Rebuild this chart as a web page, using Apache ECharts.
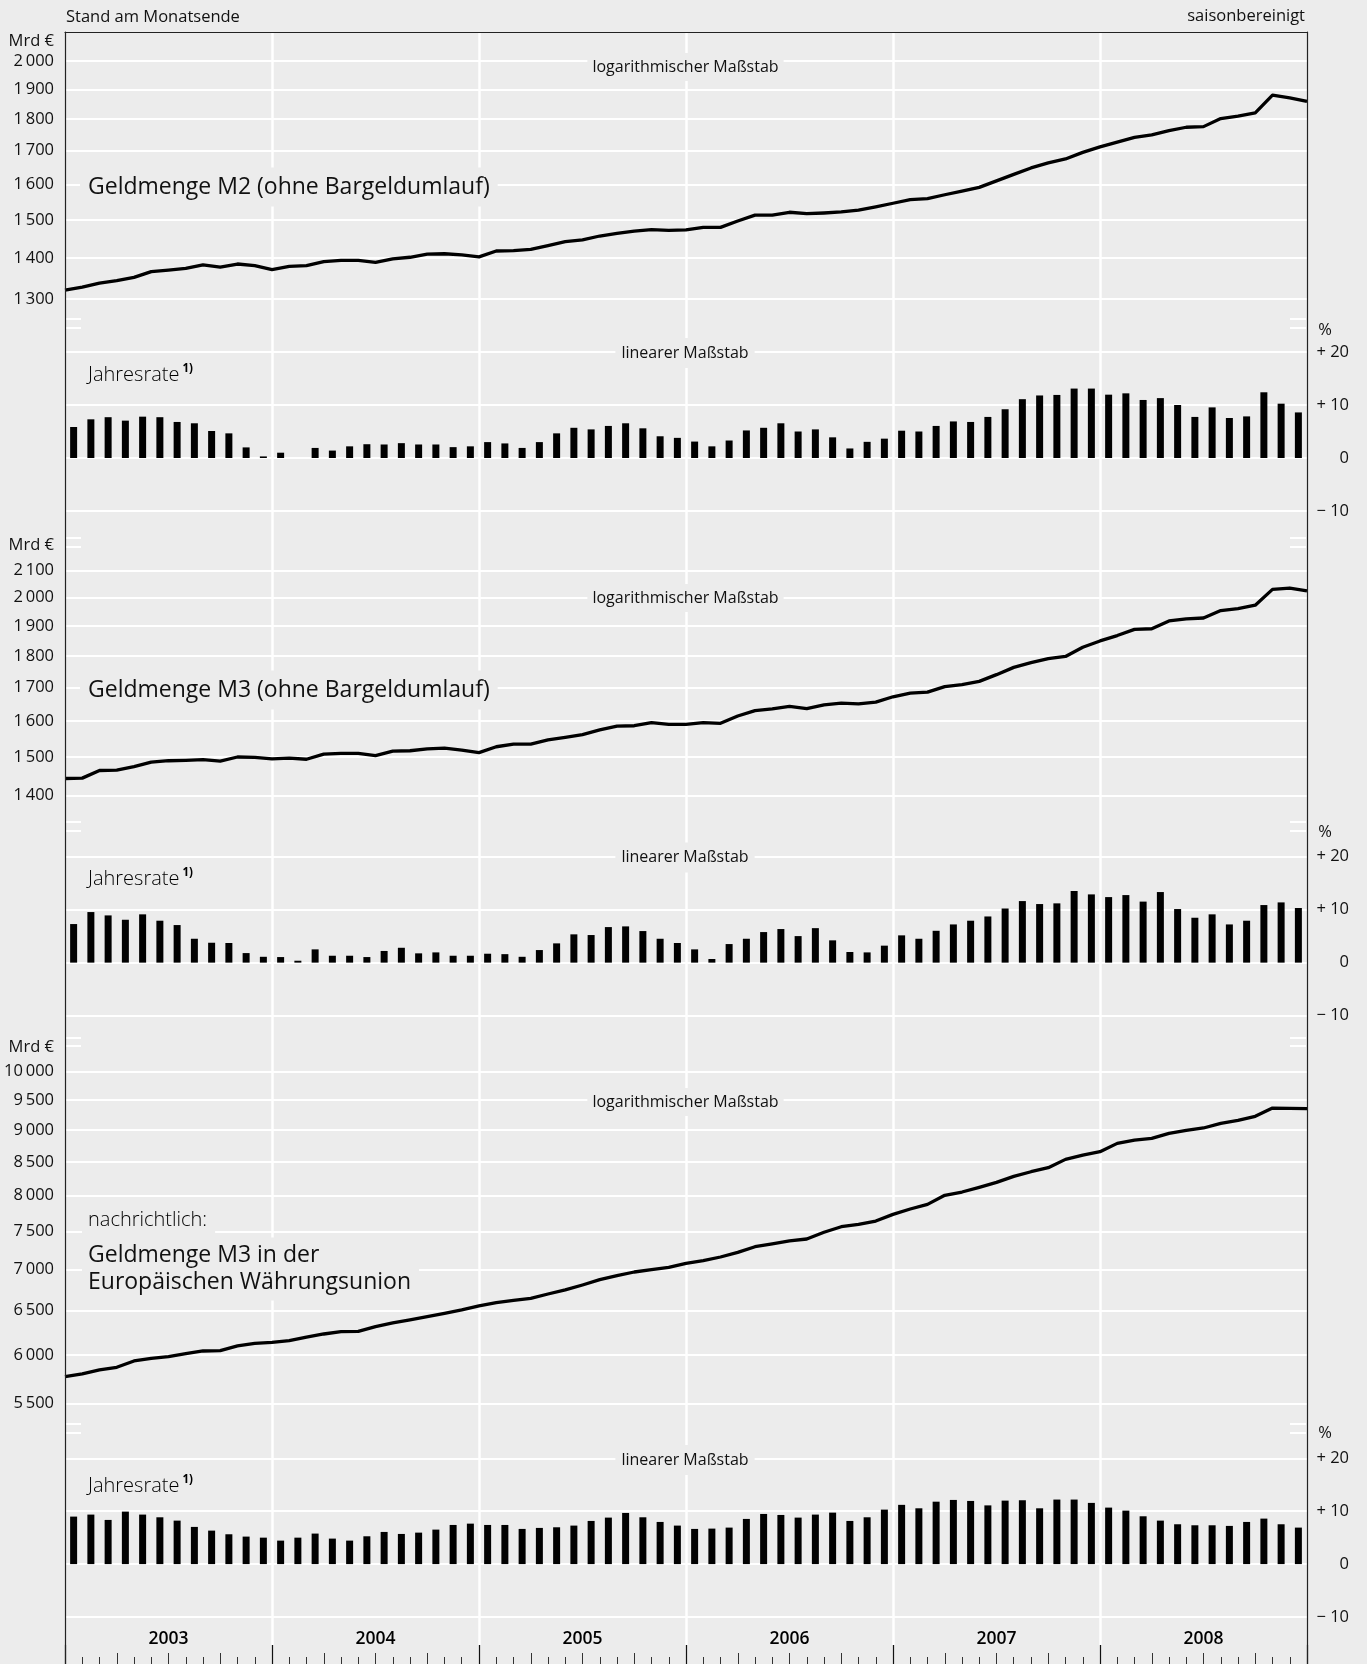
<!DOCTYPE html>
<html>
<head>
<meta charset="utf-8">
<script src="https://cdn.jsdelivr.net/npm/echarts@6/dist/echarts.min.js"></script>
<style>
html,body{margin:0;padding:0;background:#ececec;}
#c{width:1367px;height:1664px;}
</style>
</head>
<body>
<div id="c"></div>
<script>
// ---------- DATA ----------
// year labels (x axis)
const years = ['2003','2004','2005','2006','2007','2008'];
// month-end levels, end Dec 2002 .. end Dec 2008 (73 points), Mrd €
const m2Level = [1321,1328,1338,1344,1352,1366,1370,1374,1383,1377,1385,1381,1371,1379,1381,1391,1394,1394,1389,1398,1402,1410,1411,1408,1403,1418,1419,1422,1432,1442,1447,1457,1464,1470,1474,1472,1473,1480,1480,1497,1513,1513,1521,1517,1519,1522,1527,1536,1546,1556,1559,1570,1580,1591,1610,1629,1648,1663,1675,1695,1712,1727,1742,1750,1763,1774,1776,1802,1810,1821,1880,1871,1859];
const m3Level = [1443,1444,1464,1465,1474,1486,1490,1491,1493,1489,1500,1499,1495,1497,1494,1508,1510,1510,1504,1516,1517,1522,1524,1519,1512,1528,1535,1535,1547,1554,1562,1575,1586,1587,1596,1591,1591,1596,1594,1615,1631,1636,1643,1637,1648,1653,1651,1656,1672,1683,1686,1703,1709,1719,1740,1763,1778,1791,1798,1828,1849,1867,1888,1890,1917,1924,1927,1953,1960,1972,2029,2034,2024];
const ewuLevel = [5771,5799,5841,5869,5936,5965,5983,6015,6044,6048,6099,6128,6139,6158,6198,6232,6258,6262,6315,6357,6392,6430,6469,6508,6555,6594,6622,6646,6698,6747,6808,6874,6923,6969,6998,7028,7079,7113,7160,7220,7294,7330,7370,7396,7486,7562,7594,7640,7732,7807,7873,8002,8050,8118,8191,8280,8350,8411,8538,8605,8657,8788,8841,8868,8948,8996,9035,9111,9160,9227,9366,9360,9355];
// annual growth rates, Jan 2003 .. Dec 2008 (72 months), %
const m2Rate = [5.85,7.3,7.7,7.05,7.8,7.7,6.8,6.55,5.1,4.65,2.0,0.3,1.0,0,1.9,1.4,2.2,2.6,2.55,2.8,2.55,2.55,2.05,2.2,3.0,2.75,1.9,3.0,4.65,5.7,5.4,6.05,6.55,5.6,4.1,3.8,3.1,2.2,3.3,5.2,5.7,6.55,5.0,5.4,3.9,1.8,3.05,3.65,5.15,5.0,6.05,6.9,6.8,7.75,9.2,11.1,11.8,11.9,13.1,13.1,11.95,12.2,10.95,11.3,10.0,7.75,9.55,7.55,7.85,12.4,10.25,8.6];
const m3Rate = [7.27,9.53,8.9,8.08,9.1,7.9,7.08,4.5,3.75,3.7,1.8,1.1,1.05,0.36,2.5,1.3,1.3,1.05,2.2,2.8,1.75,1.93,1.3,1.3,1.68,1.6,1.1,2.37,3.63,5.33,5.2,6.7,6.83,5.95,4.5,3.7,2.5,0.68,3.5,4.5,5.76,6.33,5.0,6.5,4.2,2.0,1.93,3.2,5.14,4.5,6.0,7.2,7.9,8.7,10.2,11.6,11.04,11.17,13.5,12.86,12.35,12.73,11.5,13.3,10.1,8.46,9.1,7.2,7.9,10.85,11.35,10.3];
const ewuRate = [8.98,9.36,8.35,9.92,9.36,8.85,8.22,7.03,6.33,5.64,5.2,5.0,4.44,5.0,5.77,4.82,4.44,5.26,6.08,5.7,5.95,6.52,7.4,7.65,7.4,7.4,6.65,6.84,6.96,7.28,8.16,8.79,9.67,8.85,7.97,7.28,6.65,6.71,6.9,8.54,9.48,9.29,8.79,9.36,9.73,8.16,8.85,10.3,11.2,10.55,11.8,12.13,11.94,11.1,12.0,12.07,10.55,12.2,12.2,11.57,10.68,10.11,9.04,8.22,7.53,7.34,7.34,7.22,7.97,8.6,7.53,6.9];
// tick labels
const m2Ticks = [1300,1400,1500,1600,1700,1800,1900,2000];
const m3Ticks = [1400,1500,1600,1700,1800,1900,2000,2100];
const ewuTicks = [5500,6000,6500,7000,7500,8000,8500,9000,9500,10000];
const rateTicks = [-10,0,10,20];

// ---------- STYLE / LAYOUT ----------
const BG = '#ececec';
const FONT = "'Open Sans','Noto Sans',sans-serif";
const INK = '#111';
const FRAME = '#222';
const L = 65, R = 1367 - 1307;

const fmtK = v => String(v).replace(/\B(?=(\d{3})+(?!\d))/g, '\u2009');
const fmtRate = v => v > 0 ? '+ ' + v : (v < 0 ? '\u2212 ' + (-v) : '0');

const grids = [
  {left: L, right: R, top: 32, height: 1613},      // 0 background + year lines
  {left: L, right: R, top: 1645, height: 19},      // 1 month ticks
  {left: L, right: R, top: 61, height: 238},       // 2 M2 level
  {left: L, right: R, top: 352, height: 159},      // 3 M2 rate
  {left: L, right: R, top: 570.3, height: 225},    // 4 M3 level
  {left: L, right: R, top: 856.5, height: 159.2},  // 5 M3 rate
  {left: L, right: R, top: 1071.7, height: 331.6}, // 6 EWU level
  {left: L, right: R, top: 1458.3, height: 158.7}  // 7 EWU rate
];

const hidX = gi => ({type: 'value', gridIndex: gi, min: 0, max: 72, show: false});
const xAxes = [
  {type: 'value', gridIndex: 0, min: 0, max: 72, interval: 12, position: 'bottom',
   axisLine: {show: false, onZero: false}, axisTick: {show: false}, axisLabel: {show: false},
   splitLine: {show: true, showMinLine: false, showMaxLine: false, lineStyle: {color: '#fff', width: 2.5}}},
  {type: 'value', gridIndex: 0, min: 0, max: 72, position: 'top', z: 10,
   axisLine: {show: true, onZero: false, lineStyle: {color: FRAME, width: 1.2}}, axisTick: {show: false},
   axisLabel: {show: false}, splitLine: {show: false}},
  {type: 'category', gridIndex: 0, data: years, position: 'bottom', boundaryGap: true,
   axisLine: {show: false, onZero: false}, axisTick: {show: false}, splitLine: {show: false},
   axisLabel: {show: true, inside: true, margin: 6, verticalAlign: 'middle', color: '#000',
               fontSize: 17.5, fontWeight: 600, fontFamily: FONT}},
  {type: 'value', gridIndex: 1, min: 0, max: 72, interval: 1, position: 'bottom',
   axisLine: {show: false, onZero: false}, axisLabel: {show: false}, splitLine: {show: false},
   axisTick: {show: true, inside: true, length: 7, lineStyle: {color: '#333', width: 1}}},
  {type: 'value', gridIndex: 1, min: 0, max: 72, interval: 3, position: 'bottom',
   axisLine: {show: false, onZero: false}, axisLabel: {show: false}, splitLine: {show: false},
   axisTick: {show: true, inside: true, length: 11, lineStyle: {color: '#333', width: 1}}},
  {type: 'value', gridIndex: 1, min: 0, max: 72, interval: 12, position: 'bottom',
   axisLine: {show: false, onZero: false}, axisLabel: {show: false}, splitLine: {show: false},
   axisTick: {show: true, inside: true, length: 19, lineStyle: {color: '#111', width: 1.2}}},
  hidX(2), hidX(3), hidX(4), hidX(5), hidX(6), hidX(7)
];

const frameY = (gi, pos) => ({type: 'value', gridIndex: gi, min: 0, max: 1, position: pos, z: 10,
  axisLine: {show: true, onZero: false, lineStyle: {color: FRAME, width: 1.2}}, axisTick: {show: false},
  axisLabel: {show: false}, splitLine: {show: false}});
const logY = (gi, ticks) => ({type: 'log', gridIndex: gi, min: ticks[0], max: ticks[ticks.length - 1],
  position: 'left', axisLine: {show: false, onZero: false},
  axisTick: {show: false, customValues: ticks},
  axisLabel: {show: true, customValues: ticks, formatter: v => fmtK(Math.round(v)), margin: 11,
              color: INK, fontSize: 16.5, fontFamily: FONT},
  splitLine: {show: true, lineStyle: {color: '#fff', width: 2}}});
const rateY = gi => ({type: 'value', gridIndex: gi, min: rateTicks[0], max: rateTicks[rateTicks.length - 1],
  interval: 10, position: 'right', axisLine: {show: false, onZero: false}, axisTick: {show: false},
  axisLabel: {show: true, formatter: fmtRate, margin: 42, align: 'right', color: INK,
              fontSize: 16.5, fontFamily: FONT},
  splitLine: {show: true, lineStyle: {color: '#fff', width: 2}}});

const yAxes = [
  frameY(0, 'left'), frameY(0, 'right'), frameY(1, 'left'), frameY(1, 'right'),
  logY(2, m2Ticks), rateY(3), logY(4, m3Ticks), rateY(5), logY(6, ewuTicks), rateY(7)
];

const lineS = (xi, yi, arr) => ({type: 'line', xAxisIndex: xi, yAxisIndex: yi, z: 5,
  data: arr.map((v, i) => [i, v]), symbol: 'none', smooth: false,
  lineStyle: {color: '#000', width: 3.3, join: 'round'}});
const barS = (xi, yi, arr) => ({type: 'bar', xAxisIndex: xi, yAxisIndex: yi, z: 5,
  data: arr.map((v, i) => [i + 0.5, v]), barWidth: 7, itemStyle: {color: '#000'}});

const series = [
  lineS(6, 4, m2Level), barS(7, 5, m2Rate),
  lineS(8, 6, m3Level), barS(9, 7, m3Rate),
  lineS(10, 8, ewuLevel), barS(11, 9, ewuRate)
];

// ---------- TEXT ----------
function txt(x, y, text, size, o) {
  o = o || {};
  const style = {text: text, fill: o.fill || INK, align: o.align || 'left', verticalAlign: 'middle',
    font: (o.weight || 'normal') + ' ' + size + 'px ' + FONT};
  if (o.box) { style.backgroundColor = BG; style.padding = o.box; }
  if (o.lh) style.lineHeight = o.lh;
  return {type: 'text', x: x, y: y, z: 100, style: style};
}
function jahresrate(y) {
  return {type: 'text', x: 88, y: y, z: 100, style: {
    text: '{m|Jahresrate}{s|1)}', fill: '#000', align: 'left', verticalAlign: 'middle',
    rich: {
      m: {fontSize: 20, fontFamily: FONT, fontWeight: 300, lineHeight: 24, fill: '#000'},
      s: {fontSize: 11.5, fontFamily: FONT, fontWeight: 'bold', verticalAlign: 'top', padding: [0, 0, 0, 3], fill: '#000'}
    }}};
}
function breakMark(x1, x2, y) {
  return {type: 'line', z: 100, shape: {x1: x1, y1: y, x2: x2, y2: y},
    style: {stroke: '#fff', lineWidth: 2}};
}

const elements = [
  txt(66, 17, 'Stand am Monatsende', 16.5),
  txt(1305, 16, 'saisonbereinigt', 16.5, {align: 'right'}),
  txt(54, 41, 'Mrd €', 16.5, {align: 'right'}),
  txt(54, 545, 'Mrd €', 16.5, {align: 'right'}),
  txt(54, 1047, 'Mrd €', 16.5, {align: 'right'}),
  txt(1325, 330, '%', 16.5, {align: 'center'}),
  txt(1325, 832, '%', 16.5, {align: 'center'}),
  txt(1325, 1433, '%', 16.5, {align: 'center'}),
  txt(685.5, 67, 'logarithmischer Maßstab', 16, {align: 'center', box: [6, 5, 6, 5]}),
  txt(685.5, 598, 'logarithmischer Maßstab', 16, {align: 'center', box: [6, 5, 6, 5]}),
  txt(685.5, 1102, 'logarithmischer Maßstab', 16, {align: 'center', box: [6, 5, 6, 5]}),
  txt(685, 353, 'linearer Maßstab', 16, {align: 'center', box: [7, 6, 7, 6]}),
  txt(685, 857.5, 'linearer Maßstab', 16, {align: 'center', box: [7, 6, 7, 6]}),
  txt(685, 1460, 'linearer Maßstab', 16, {align: 'center', box: [7, 6, 7, 6]}),
  txt(80, 187, 'Geldmenge M2 (ohne Bargeldumlauf)', 23, {box: [8, 8, 8, 8]}),
  txt(80, 690, 'Geldmenge M3 (ohne Bargeldumlauf)', 23, {box: [8, 8, 8, 8]}),
  txt(82, 1220, 'nachrichtlich:', 20, {weight: 300, fill: '#000', box: [3, 8, 3, 6]}),
  txt(82, 1269, 'Geldmenge M3 in der\nEuropäischen Währungsunion', 23, {lh: 26.6, box: [5, 8, 5, 6]}),
  jahresrate(375), jahresrate(879), jahresrate(1486)
];
[[319, 328], [538, 547], [822, 831], [1038, 1046], [1424, 1433]].forEach(p => {
  p.forEach(y => {
    elements.push(breakMark(66.5, 81, y));
    elements.push(breakMark(1290, 1306, y));
  });
});

const chart = echarts.init(document.getElementById('c'), null, {renderer: 'canvas'});
chart.setOption({
  backgroundColor: BG,
  animation: false,
  textStyle: {fontFamily: FONT},
  grid: grids,
  xAxis: xAxes,
  yAxis: yAxes,
  series: series,
  graphic: {elements: elements}
});
</script>
</body>
</html>
